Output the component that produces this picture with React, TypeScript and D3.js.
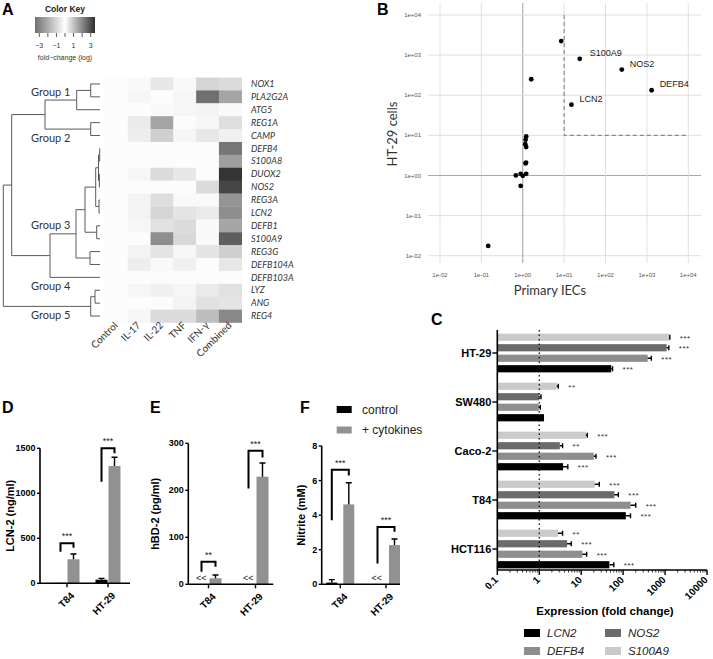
import React from "react";
import * as d3 from "d3";

const W = 713;
const H = 659;
const ARIAL = "'Liberation Sans', Arial, sans-serif";
const SOFT = "Lato, 'Open Sans', sans-serif";

// ---------- A: heatmap ----------
const treatments = ["Control", "IL-17", "IL-22", "TNF", "IFN-γ", "Combined"];
const heatGenes = ["NOX1", "PLA2G2A", "ATG5", "REG1A", "CAMP", "DEFB4", "S100A8", "DUOX2", "NOS2", "REG3A",
  "LCN2", "DEFB1", "S100A9", "REG3G", "DEFB104A", "DEFB103A", "LYZ", "ANG", "REG4"];
const heatValues = [
  [0.05, 0.1, 0.4, 0.1, 0.7, 0.6],
  [0.05, 0.15, 0.05, 0.15, 2.4, 1.5],
  [0.05, 0.05, 0.1, 0.15, 0.2, 0.1],
  [0.05, 0.35, 1.5, 0.05, 0.15, 0.55],
  [0.05, 0.3, 0.8, 0.15, 0.4, 0.25],
  [0.05, 0.05, 0.05, 0.05, 0.05, 2.3],
  [0.05, 0.05, 0.05, 0.05, 0.05, 1.6],
  [0.05, 0.15, 0.6, 0.4, 0.05, 3.4],
  [0.05, 0.05, 0.05, 0.05, 0.6, 3.1],
  [0.05, 0.2, 0.55, 0.1, 0.1, 1.8],
  [0.05, 0.2, 0.7, 0.45, 0.35, 1.9],
  [0.05, 0.15, 0.5, 0.6, 0.1, 1.5],
  [0.05, 0.05, 1.9, 0.65, 0.1, 2.7],
  [0.05, 0.2, 0.45, 0.15, 0.45, 0.8],
  [0.05, 0.3, 0.1, 0.25, 0.05, 0.4],
  [0.05, 0.05, 0.05, 0.05, 0.05, 0.05],
  [0.05, 0.15, 0.25, 0.15, 0.35, 0.5],
  [0.05, 0.05, 0.05, 0.2, 0.5, 0.45],
  [0.05, 0.15, 0.6, 0.6, 1.1, 2.0],
];
const keyTicks = [-3, -2, -1, 0, 1, 2, 3];
const keyLabels = [-3, -1, 1, 3];

type DNode = { h: number; name?: string; g?: string; above?: boolean; c?: DNode[] };
const lf = (name: string, g?: string, above?: boolean): DNode => ({ h: 0, name, g, above });
const jn = (h: number, a: DNode | string, b: DNode | string, g?: string, above?: boolean): DNode => ({
  h, g, above,
  c: [typeof a === "string" ? lf(a) : a, typeof b === "string" ? lf(b) : b],
});
const dendro = jn(96.7,
  jn(88.3,
    jn(55, jn(23.3, jn(9.3, "NOX1", "PLA2G2A"), "ATG5", "Group 1", true), jn(9.3, "REG1A", "CAMP", "Group 2", false)),
    jn(50,
      jn(24,
        jn(15,
          jn(4.3, jn(1.5, jn(0.3, "DEFB4", "S100A8"), jn(0.6, "DUOX2", "NOS2")), jn(1.0, "REG3A", "LCN2")),
          jn(3.3, "DEFB1", "S100A9")),
        jn(10, "REG3G", "DEFB104A"), "Group 3", true),
      lf("DEFB103A", "Group 4", false))),
  jn(9.3, jn(5, "LYZ", "ANG"), "REG4", "Group 5", false));

// ---------- B: scatter ----------
const primaryIEC = [8.5, 23.8, 247, 1300, 15, 1.6, 0.146, 1.21, 1.17, 1.15, 1.21, 1.17, 1.2, 0.68, 0.89, 1.0, 1.21, 0.89];
const ht29 = [2240, 810, 437, 133, 58, 250, 0.0175, 9.4, 7.8, 6.0, 5.1, 2.0, 2.1, 1.0, 1.1, 0.98, 1.1, 0.55];
const scatterNames = ["", "S100A9", "NOS2", "DEFB4", "LCN2", "", "", "", "", "", "", "", "", "", "", "", "", ""];
const logTicks = [1e-2, 1e-1, 1e0, 1e1, 1e2, 1e3, 1e4];
const threshold = 10;

// ---------- C: horizontal bars ----------
const cellLines = ["HT-29", "SW480", "Caco-2", "T84", "HCT116"];
const barGenes = ["S100A9", "NOS2", "DEFB4", "LCN2"];
const geneColors = ["#cacaca", "#6b6b6b", "#8e8e8e", "#000000"];
const foldValues = [
  [1250, 2.6, 13, 21, 2.8],
  [1090, 1.0, 3.1, 62, 4.6],
  [385, 0.98, 20, 151, 10.7],
  [52, 1.3, 3.7, 116, 47],
];
const foldUpper = [
  [1300, 2.85, 14, 27, 3.6],
  [1230, 1.1, 3.6, 77, 5.8],
  [470, 1.06, 22.5, 200, 13.5],
  [56, 1.3, 4.8, 150, 60],
];
const foldStars = [
  ["***", "**", "***", "***", "**"],
  ["***", "", "**", "***", "***"],
  ["***", "", "***", "***", "***"],
  ["***", "", "***", "***", "***"],
];
const cTicks = [0.1, 1, 10, 100, 1000, 10000];
const legendOrder = ["LCN2", "NOS2", "DEFB4", "S100A9"];

// ---------- D/E/F: secretion ----------
const secGroups = ["T84", "HT-29"];
const lcnControl = [5, 40];
const lcnControlErr = [0, 15];
const lcnCyto = [267, 1303];
const lcnCytoErr = [58, 97];
const lcnBrackets = [[444, 351, 396], [1500, 1129, 1444]];
const lcnSig = ["***", "***"];
const hbdControl = [null, null];
const hbdControlErr = [0, 0];
const hbdCyto = [12.8, 229];
const hbdCytoErr = [7, 29];
const hbdBrackets = [[48, 26.8, 37.4], [284, 204, 270]];
const hbdSig = ["**", "***"];
const nitControl = [0.1, null];
const nitControlErr = [0.17, 0];
const nitCyto = [4.62, 2.27];
const nitCytoErr = [1.25, 0.35];
const nitBrackets = [[6.63, 3.7, 6.3], [3.32, 1.21, 3.04]];
const nitSig = ["***", "***"];

const CYTO = "#919191";

function Heatmap() {
  const cx = d3.scaleBand(treatments, [105, 241.7]);
  const cy = d3.scaleBand(heatGenes, [77.5, 322.5]);
  const col = d3.scaleLinear<string>().domain([-3.5, 0, 3.5]).range(["#707070", "#ffffff", "#2e2e2e"]);
  const kx = d3.scaleLinear().domain([-3.5, 3.5]).range([35, 95]);
  const stops = d3.range(-3.5, 3.51, 0.5);

  const root = d3.hierarchy<DNode>(dendro, d => d.c);
  const xD = d3.scaleLinear().domain([0, 96.7]).range([100, 3.3]);
  const ys = new Map<any, number>();
  root.eachAfter(n => {
    if (n.children) ys.set(n, d3.mean(n.children, c => ys.get(c)!)!);
    else ys.set(n, cy(n.data.name!)! + cy.bandwidth() / 2);
  });
  const segs: string[] = [];
  const labels: { t: string; y: number }[] = [];
  root.each(n => {
    const y = ys.get(n)!;
    if (n.children) {
      const cys = n.children.map(c => ys.get(c)!);
      segs.push(`M${xD(n.data.h)},${d3.min(cys)}V${d3.max(cys)}`);
      n.children.forEach(c => segs.push(`M${xD(n.data.h)},${ys.get(c)}H${xD(c.data.h)}`));
    }
    if (n.data.g) labels.push({ t: n.data.g, y: n.data.above ? y - 4.5 : y + 12.5 });
  });

  return (
    <g>
      <text x={2} y={15} fontFamily={ARIAL} fontWeight="bold" fontSize={16}>A</text>
      <defs>
        <linearGradient id="keygrad" x1="0" x2="1" y1="0" y2="0">
          {stops.map(s => (
            <stop key={s} offset={(s + 3.5) / 7} stopColor={col(s)} />
          ))}
        </linearGradient>
      </defs>
      <text x={65} y={12} textAnchor="middle" fontFamily={ARIAL} fontWeight="bold" fontSize={8.5} fill="#222">Color Key</text>
      <rect x={kx(-3.5)} y={17} width={kx(3.5) - kx(-3.5)} height={16} fill="url(#keygrad)" />
      {keyTicks.map(t => (
        <line key={t} x1={kx(t)} x2={kx(t)} y1={33} y2={37} stroke="#333" strokeWidth={0.8} />
      ))}
      {keyLabels.map(t => (
        <text key={t} x={kx(t)} y={48} textAnchor="middle" fontFamily={ARIAL} fontSize={7} fill="#333">
          {t < 0 ? `−${-t}` : t}
        </text>
      ))}
      <text x={65} y={60} textAnchor="middle" fontFamily={ARIAL} fontSize={7} fill="#333">fold−change (log)</text>

      {heatValues.map((row, i) =>
        row.map((v, j) => (
          <rect key={`${i}-${j}`} x={cx(treatments[j])} y={cy(heatGenes[i])}
            width={cx.bandwidth() + 0.3} height={cy.bandwidth() + 0.3} fill={col(v)} />
        ))
      )}
      {heatGenes.map(g => (
        <text key={g} x={251} y={cy(g)! + cy.bandwidth() / 2} dy="0.35em" fontFamily={SOFT}
          fontStyle="italic" fontSize={9} fill="#333">{g}</text>
      ))}
      {treatments.map(t => (
        <text key={t} transform={`translate(${cx(t)! + cx.bandwidth() / 2 + 2},${326}) rotate(-45)`}
          textAnchor="end" fontFamily={SOFT} fontSize={10} fill="#333">{t}</text>
      ))}
      <path d={segs.join("")} stroke="#5a5a5a" strokeWidth={1} fill="none" />
      {labels.map(l => (
        <text key={l.t} x={31} y={l.y} fontFamily={SOFT} fontSize={11} fill="#333">{l.t}</text>
      ))}
    </g>
  );
}

function fmtSci(d: number) {
  const e = Math.round(Math.log10(d));
  return `1e${e < 0 ? "-" : "+"}${String(Math.abs(e)).padStart(2, "0")}`;
}

function Scatter() {
  const x = d3.scaleLog().domain([1e-2, 1e4]).range([440, 688.3]);
  const y = d3.scaleLog().domain([1e-2, 1e4]).range([255.7, 15]);
  const px0 = 428, px1 = 701, py0 = 3, py1 = 263;
  return (
    <g>
      <text x={377} y={15} fontFamily={ARIAL} fontWeight="bold" fontSize={16}>B</text>
      {logTicks.map(t => (
        <g key={t}>
          <line x1={x(t)} x2={x(t)} y1={py0} y2={py1} stroke={t === 1 ? "#a8a8a8" : "#dcdcdc"} strokeWidth={t === 1 ? 1.1 : 0.9} />
          <line x1={px0} x2={px1} y1={y(t)} y2={y(t)} stroke={t === 1 ? "#a8a8a8" : "#dcdcdc"} strokeWidth={t === 1 ? 1.1 : 0.9} />
          <text x={x(t)} y={277} textAnchor="middle" fontFamily={ARIAL} fontSize={6} fill="#555">{fmtSci(t)}</text>
          <text x={421} y={y(t)} dy="0.35em" textAnchor="end" fontFamily={ARIAL} fontSize={6} fill="#555">{fmtSci(t)}</text>
        </g>
      ))}
      <path d={`M${x(threshold)},${y(1e4)}V${y(threshold)}H${x(1e4)}`} fill="none" stroke="#777" strokeWidth={1} strokeDasharray="4,3" />
      {primaryIEC.map((v, i) => (
        <circle key={i} cx={x(v)} cy={y(ht29[i])} r={2.4} fill="#000" />
      ))}
      {scatterNames.map((n, i) => n && (
        <text key={n} x={x(primaryIEC[i]) + (n === "S100A9" ? 10 : 8)} y={y(ht29[i]) - 3}
          fontFamily={ARIAL} fontSize={9} fill="#1a1a1a">{n}</text>
      ))}
      <text x={550} y={295} textAnchor="middle" fontFamily={SOFT} fontSize={13} fill="#333">Primary IECs</text>
      <text transform={`translate(397,134) rotate(-90)`} textAnchor="middle" fontFamily={SOFT} fontSize={13} fill="#333">HT-29 cells</text>
    </g>
  );
}

function FoldBars() {
  const x = d3.scaleLog().domain([0.1, 10000]).range([497.3, 707]);
  const y = d3.scalePoint(cellLines, [353, 549]);
  const pitch = 10.5, bh = 7.2;
  const axisY = 570, axisTop = 330;
  const minor: number[] = [];
  for (let dec = 0.1; dec < 10000; dec *= 10) for (let k = 2; k < 10; k++) minor.push(dec * k);
  return (
    <g>
      <text x={431} y={325} fontFamily={ARIAL} fontWeight="bold" fontSize={16}>C</text>
      {barGenes.map((g, gi) =>
        cellLines.map((cl, ci) => {
          const cyv = y(cl)! + (gi - 1.5) * pitch;
          const v = foldValues[gi][ci];
          const up = foldUpper[gi][ci];
          return (
            <g key={`${g}-${cl}`}>
              <rect x={x(0.1)} y={cyv - bh / 2} width={x(v) - x(0.1)} height={bh} fill={geneColors[gi]} />
              {up > v && (
                <path d={`M${x(v)},${cyv}H${x(up)}M${x(up)},${cyv - 2.5}V${cyv + 2.5}`} stroke="#000" strokeWidth={1.4} fill="none" />
              )}
              {foldStars[gi][ci] && (
                <text x={x(up) + 10} y={cyv + 3.5} fontFamily={ARIAL} fontSize={8} fill="#333" letterSpacing={0.5}>{foldStars[gi][ci]}</text>
              )}
            </g>
          );
        })
      )}
      <line x1={x(1)} x2={x(1)} y1={axisTop} y2={axisY} stroke="#000" strokeWidth={1.2} strokeDasharray="1.5,3" />
      <line x1={x(0.1)} x2={x(0.1)} y1={axisTop} y2={axisY} stroke="#000" strokeWidth={1.6} />
      <line x1={x(0.1)} x2={x(10000)} y1={axisY} y2={axisY} stroke="#000" strokeWidth={1.6} />
      {cellLines.map(cl => (
        <g key={cl}>
          <line x1={x(0.1) - 5} x2={x(0.1)} y1={y(cl)} y2={y(cl)} stroke="#000" strokeWidth={1.4} />
          <text x={x(0.1) - 6} y={y(cl)} dy="0.35em" textAnchor="end" fontFamily={ARIAL} fontWeight="bold" fontSize={11}>{cl}</text>
        </g>
      ))}
      {minor.map(m => (
        <line key={m} x1={x(m)} x2={x(m)} y1={axisY} y2={axisY + 2.5} stroke="#000" strokeWidth={0.8} />
      ))}
      {cTicks.map(t => (
        <g key={t}>
          <line x1={x(t)} x2={x(t)} y1={axisY} y2={axisY + 5} stroke="#000" strokeWidth={1.4} />
          <text transform={`translate(${x(t) - 1},${axisY + 8}) rotate(-45)`} textAnchor="end" dy="0.35em"
            fontFamily={ARIAL} fontWeight="bold" fontSize={10}>{String(t)}</text>
        </g>
      ))}
      <text x={605} y={615} textAnchor="middle" fontFamily={ARIAL} fontWeight="bold" fontSize={11.5}>Expression (fold change)</text>
      {legendOrder.map((g, i) => {
        const gi = barGenes.indexOf(g);
        const lx = i % 2 === 0 ? 524 : 605;
        const ly = i < 2 ? 633 : 651;
        return (
          <g key={g}>
            <rect x={lx} y={ly - 4} width={16} height={8} fill={geneColors[gi]} />
            <text x={lx + 23} y={ly} dy="0.36em" fontFamily={ARIAL} fontStyle="italic" fontSize={11.5} fill="#222">{g}</text>
          </g>
        );
      })}
    </g>
  );
}

type SecProps = {
  letter: string; lx: number; x0: number; x1: number; yTop: number; yZero: number; max: number;
  ticks: number[]; centers: [number, number]; off: number; bw: number; title: string; titleX: number;
  control: (number | null)[]; controlErr: number[]; cyto: number[]; cytoErr: number[];
  brackets: number[][]; sig: string[];
};

function SecPanel(p: SecProps) {
  const y = d3.scaleLinear().domain([0, p.max]).range([p.yZero, p.yTop]);
  const gx = d3.scalePoint(secGroups, p.centers);
  return (
    <g>
      <text x={p.lx} y={413} fontFamily={ARIAL} fontWeight="bold" fontSize={16}>{p.letter}</text>
      {secGroups.map((g, i) => {
        const c = gx(g)!;
        const xc = c - p.off, xk = c + p.off;
        const cv = p.control[i];
        const [bt, bl, br] = p.brackets[i];
        return (
          <g key={g}>
            {cv !== null ? (
              <g>
                <rect x={xc - p.bw / 2} y={y(cv)} width={p.bw} height={y(0) - y(cv)} fill="#000" />
                {p.controlErr[i] > 0 && (
                  <path d={`M${xc},${y(cv)}V${y(cv + p.controlErr[i])}M${xc - 3},${y(cv + p.controlErr[i])}H${xc + 3}`} stroke="#000" strokeWidth={1.4} />
                )}
              </g>
            ) : (
              <text x={xc + p.bw / 2 - 1} y={y(0) - 3} textAnchor="end" fontFamily={ARIAL} fontSize={9} fill="#222">{"<<"}</text>
            )}
            <rect x={xk - p.bw / 2} y={y(p.cyto[i])} width={p.bw} height={y(0) - y(p.cyto[i])} fill={CYTO} />
            <path d={`M${xk},${y(p.cyto[i])}V${y(p.cyto[i] + p.cytoErr[i])}M${xk - 3},${y(p.cyto[i] + p.cytoErr[i])}H${xk + 3}`} stroke="#000" strokeWidth={1.4} />
            <path d={`M${xc},${y(bl)}V${y(bt)}H${xk}V${y(br)}`} fill="none" stroke="#000" strokeWidth={2} />
            <text x={c} y={y(bt) - 4} textAnchor="middle" fontFamily={ARIAL} fontSize={9} fill="#222">{p.sig[i]}</text>
            <line x1={c} x2={c} y1={p.yZero} y2={p.yZero + 4} stroke="#000" strokeWidth={1.4} />
            <text transform={`translate(${c + 3},${p.yZero + 8}) rotate(-45)`} textAnchor="end" dy="0.7em"
              fontFamily={ARIAL} fontWeight="bold" fontSize={10}>{g}</text>
          </g>
        );
      })}
      <line x1={p.x0} x2={p.x0} y1={p.yTop} y2={p.yZero} stroke="#000" strokeWidth={1.6} />
      <line x1={p.x0} x2={p.x1} y1={p.yZero} y2={p.yZero} stroke="#000" strokeWidth={1.6} />
      {p.ticks.map(t => (
        <g key={t}>
          <line x1={p.x0 - 3} x2={p.x0} y1={y(t)} y2={y(t)} stroke="#000" strokeWidth={1.4} />
          <text x={p.x0 - 4.5} y={y(t)} dy="0.35em" textAnchor="end" fontFamily={ARIAL} fontWeight="bold" fontSize={9}>{t}</text>
        </g>
      ))}
      <text transform={`translate(${p.titleX},${(p.yTop + p.yZero) / 2}) rotate(-90)`} textAnchor="middle"
        fontFamily={ARIAL} fontWeight="bold" fontSize={11}>{p.title}</text>
    </g>
  );
}

export default function App() {
  return (
    <svg width={W} height={H} style={{ position: "absolute", left: 0, top: 0, background: "#fff" }}>
      <rect width={W} height={H} fill="#fff" />
      <Heatmap />
      <Scatter />
      <FoldBars />
      <SecPanel letter="D" lx={2} x0={40} x1={130} yTop={448.3} yZero={583.3} max={1500} ticks={[0, 500, 1000, 1500]}
        centers={[67, 108]} off={6.5} bw={12} title="LCN-2 (ng/ml)" titleX={14}
        control={lcnControl} controlErr={lcnControlErr} cyto={lcnCyto} cytoErr={lcnCytoErr} brackets={lcnBrackets} sig={lcnSig} />
      <SecPanel letter="E" lx={150} x0={188.3} x1={273.3} yTop={443.3} yZero={584.3} max={300} ticks={[0, 100, 200, 300]}
        centers={[208.5, 255.5]} off={7} bw={12} title="hBD-2 (pg/ml)" titleX={159}
        control={hbdControl} controlErr={hbdControlErr} cyto={hbdCyto} cytoErr={hbdCytoErr} brackets={hbdBrackets} sig={hbdSig} />
      <SecPanel letter="F" lx={300} x0={321.7} x1={400} yTop={446} yZero={584.3} max={8} ticks={[0, 2, 4, 6, 8]}
        centers={[340.3, 386]} off={8.5} bw={11} title="Nitrite (mM)" titleX={305}
        control={nitControl} controlErr={nitControlErr} cyto={nitCyto} cytoErr={nitCytoErr} brackets={nitBrackets} sig={nitSig} />
      <rect x={336.7} y={406} width={15} height={7} fill="#000" />
      <text x={362} y={409.5} dy="0.36em" fontFamily={ARIAL} fontSize={12} fill="#222">control</text>
      <rect x={336.7} y={426.5} width={15} height={7} fill={CYTO} />
      <text x={362} y={430} dy="0.36em" fontFamily={ARIAL} fontSize={12} fill="#222">+ cytokines</text>
    </svg>
  );
}
